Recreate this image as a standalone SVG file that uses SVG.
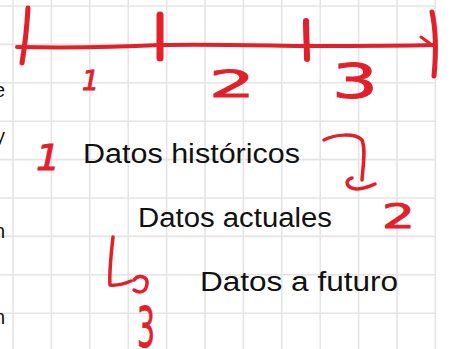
<svg xmlns="http://www.w3.org/2000/svg" width="451" height="349" viewBox="0 0 451 349">
<style>
.grid line{stroke:#e4e4e4;stroke-width:1.6}
.red{fill:none;stroke:#e3202a;stroke-linecap:round;stroke-linejoin:round}
.rt{fill:#e3202a;stroke:#e3202a;stroke-width:1;font-family:"DejaVu Sans",sans-serif}
.bt{fill:#111;font-family:"Liberation Sans",Arial,sans-serif;font-size:27px}
.edge{fill:#111;font-family:"Liberation Sans",Arial,sans-serif;font-size:20px}
</style>
<rect width="451" height="349" fill="#ffffff"/>
<g class="grid">
<line x1="13" y1="0" x2="13" y2="349"/>
<line x1="51.4" y1="0" x2="51.4" y2="349"/>
<line x1="89.8" y1="0" x2="89.8" y2="349"/>
<line x1="128.2" y1="0" x2="128.2" y2="349"/>
<line x1="166.6" y1="0" x2="166.6" y2="349"/>
<line x1="205" y1="0" x2="205" y2="349"/>
<line x1="243.4" y1="0" x2="243.4" y2="349"/>
<line x1="281.8" y1="0" x2="281.8" y2="349"/>
<line x1="320.2" y1="0" x2="320.2" y2="349"/>
<line x1="358.6" y1="0" x2="358.6" y2="349"/>
<line x1="397" y1="0" x2="397" y2="349"/>
<line x1="435.4" y1="0" x2="435.4" y2="349"/>
<line x1="0" y1="6" x2="436" y2="6"/>
<line x1="0" y1="44.4" x2="436" y2="44.4"/>
<line x1="0" y1="82.8" x2="436" y2="82.8"/>
<line x1="0" y1="121.2" x2="436" y2="121.2"/>
<line x1="0" y1="159.6" x2="436" y2="159.6"/>
<line x1="0" y1="198" x2="436" y2="198"/>
<line x1="0" y1="236.4" x2="436" y2="236.4"/>
<line x1="0" y1="274.8" x2="436" y2="274.8"/>
<line x1="0" y1="313.2" x2="436" y2="313.2"/>
</g>
<g id="edge-text">
<text class="edge" x="-6" y="97">e</text>
<text class="edge" x="-5" y="143">y</text>
<text class="edge" x="-6" y="238">n</text>
<text class="edge" x="-6" y="324">n</text>
</g>
<g id="timeline">
<path class="red" stroke-width="4" d="M17,47 C70,48 120,47 160,45 C220,44 280,46 306,46 C360,46 400,46 433,45"/>
<path class="red" stroke-width="5" d="M28,8 C27,25 25,45 22,63"/>
<path class="red" stroke-width="7" d="M160,15 L160,58"/>
<path class="red" stroke-width="6" d="M306,21 C306,35 307,48 307,59"/>
<path class="red" stroke-width="5" d="M432,12 C436,30 436,55 434,76"/>
<path class="red" stroke-width="3" d="M421,37 L432,45"/>
<text class="rt" x="82" y="90" font-size="26" font-style="italic" textLength="17" lengthAdjust="spacingAndGlyphs">1</text>
<text class="rt" x="209" y="97" font-size="38" textLength="46" lengthAdjust="spacingAndGlyphs">2</text>
<text class="rt" x="332" y="98" font-size="48" textLength="46" lengthAdjust="spacingAndGlyphs">3</text>
</g>
<g id="node-historicos">
<text class="bt" x="83" y="163" textLength="217" lengthAdjust="spacingAndGlyphs">Datos históricos</text>
<text class="rt" x="36" y="170" font-size="36" font-style="italic" textLength="24" lengthAdjust="spacingAndGlyphs">1</text>
</g>
<g id="node-actuales">
<text class="bt" x="138" y="227" textLength="194" lengthAdjust="spacingAndGlyphs">Datos actuales</text>
<text class="rt" x="382" y="228" font-size="34" textLength="33" lengthAdjust="spacingAndGlyphs">2</text>
</g>
<g id="node-futuro">
<text class="bt" x="200" y="291" textLength="198" lengthAdjust="spacingAndGlyphs">Datos a futuro</text>
<text class="rt" x="137" y="346" font-size="56" textLength="18" lengthAdjust="spacingAndGlyphs">3</text>
</g>
<g id="connectors">
<path class="red" stroke-width="3.5" d="M324,140 C335,134 355,133 362,140 C366,150 363,165 362,180 M352,178 C344,180 346,188 356,189 C364,189 370,186 375,184"/>
<path class="red" stroke-width="3.5" d="M113,237 C111,255 109,272 110,285 C118,286 124,284 131,281 M134,280 C138,274 148,276 147,284 C146,292 140,294 134,290"/>
</g>
</svg>
